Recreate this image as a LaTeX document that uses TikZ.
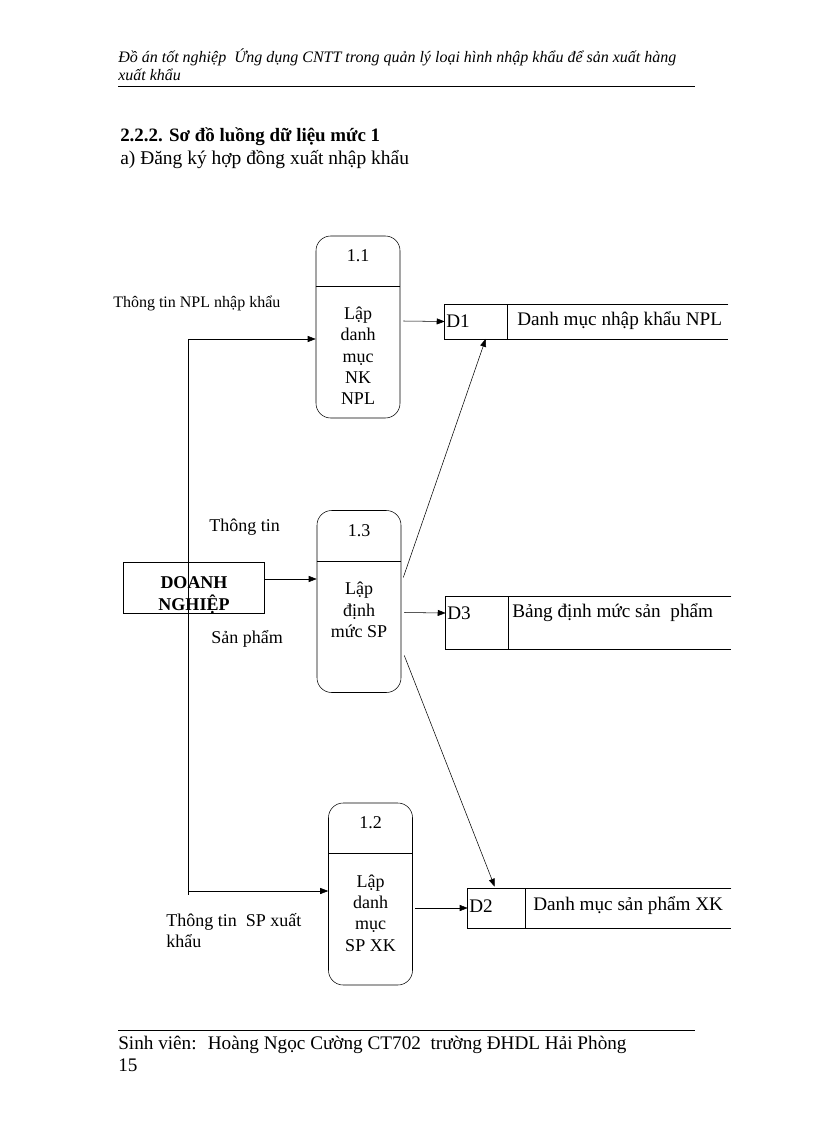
\documentclass[tikz,border=0pt]{standalone}
\usepackage{fontspec}
\setmainfont{Liberation Serif}
\usetikzlibrary{arrows.meta,calc,positioning}

\begin{document}
\begin{tikzpicture}[x=0.75pt,y=-0.75pt,
  every node/.style={font=\fontsize{13.5}{16}\selectfont,inner sep=0pt},
  proc/.style={draw,rounded corners=11pt,minimum width=63pt,minimum height=136.5pt},
  store/.style 2 args={minimum height=#1,minimum width=#2},
  storetext/.style={anchor=west,font=\fontsize{14.4}{16}\selectfont},
  flow/.style={-{Triangle[length=6pt,width=4.5pt]}},
  label/.style={anchor=west}]
  \useasboundingbox (0,0) rectangle (816,1123);

  % page header and footer
  \node[anchor=base west,font=\fontsize{12}{13.5}\itshape,align=left] (head) at (118,81)
    {Đồ án tốt nghiệp~ Ứng dụng CNTT trong quản lý loại hình nhập khẩu để sản xuất hàng\\xuất khẩu};
  \draw (118,86) -- (695,86);
  \node[anchor=base west,font=\fontsize{14.2}{16}\bfseries] (sec) at (120,142) {2.2.2. Sơ đồ luồng dữ liệu mức 1};
  \node[anchor=base west,font=\fontsize{14.6}{16}\selectfont] (sub) at (120,165) {a) Đăng ký hợp đồng xuất nhập khẩu};
  \draw (118,1030) -- (695,1030);
  \node[anchor=base west,align=left,font=\fontsize{14.4}{16.5}\selectfont] (foot) at (118,1071)
    {Sinh viên:~ Hoàng Ngọc Cường CT702~ trường ĐHDL Hải Phòng\\15};

  % processes
  \node[proc] (p11) at (358,327) {};
  \node[proc] (p13) at (359,601.5) {};
  \node[proc] (p12) at (370.5,894) {};
  \foreach \p/\id in {p11/1.1,p13/1.3,p12/1.2} {
    \draw ($(\p.north west)+(0,51)$) -- ($(\p.north east)+(0,51)$);
    \node (\p id) at ($(\p.north)+(0,20)$) {\id};
  }
  \node[align=center] (p11txt) at (358,356) {Lập\\danh\\mục\\NK\\NPL};
  \node[align=center] (p13txt) at (359,610) {Lập\\định\\mức SP};
  \node[align=center] (p12txt) at (370.5,913) {Lập\\danh\\mục\\SP XK};

  % external entity
  \node[draw,minimum width=105.75pt,minimum height=38.25pt] (dn) at (193.5,587.5) {};
  \node[align=center,font=\fontsize{13.5}{16.5}\bfseries] (dntxt) at (194,595) {DOANH\\NGHIỆP};

  % data stores
  \node[store={25.5pt}{212.25pt}] (d1) at (586.5,321.5) {};
  \node[store={39pt}{213.75pt}] (d3) at (588.5,623) {};
  \node[store={29.25pt}{197.25pt}] (d2) at (599.5,908.5) {};
  \foreach \d/\sep in {d1/63,d3/63,d2/58}
    \draw (\d.north east) -- (\d.north west) -- (\d.south west) -- (\d.south east)
      ($(\d.north west)+(\sep,0)$) -- ($(\d.south west)+(\sep,0)$);
  \node[storetext] (d1id) at (446,321) {D1};
  \node[storetext] (d1name) at (517,321) {Danh mục nhập khẩu NPL};
  \node[storetext] (d3id) at (447,613) {D3};
  \node[storetext] (d3name) at (512,613) {Bảng định mức sản~ phẩm};
  \node[storetext] (d2id) at (469,906) {D2};
  \node[storetext] (d2name) at (533,906) {Danh mục sản phẩm XK};

  % flows
  \coordinate (bustop) at (188,339);
  \coordinate (busbot) at (188,895);
  \draw (bustop) -- (busbot);
  \draw[flow] (bustop) -- (bustop -| p11.west);
  \draw[flow] (188,891) -- (p12.west |- 188,891);
  \draw[flow] (dn.east |- 0,579) -- (p13.west |- 0,579);
  \draw[flow] ($(p11.east)+(3,-6)$) -- (d1.west);
  \draw[flow] ($(p13.east)+(3,11)$) -- (d3.west |- 0,613);
  \draw[flow] ($(p12.east)+(2,14)$) -- (d2.west |- 0,908);
  \draw[flow] ($(p13.east)+(2,-24)$) -- ($(d1.south west)+(41,0)$);
  \draw[flow] ($(p13.east)+(3,54)$) -- ($(d2.north west)+(27,-2)$);

  % flow labels
  \node[label,font=\fontsize{12}{14}\selectfont] (lnpl) at (113,303) {Thông tin NPL nhập khẩu};
  \node[label] (ltt) at (209,527) {Thông tin};
  \node[label] (lsp) at (211,639) {Sản phẩm};
  \node[anchor=north west,align=left] (lxk) at (166,913) {Thông tin~ SP xuất\\khẩu};
\end{tikzpicture}
\end{document}
